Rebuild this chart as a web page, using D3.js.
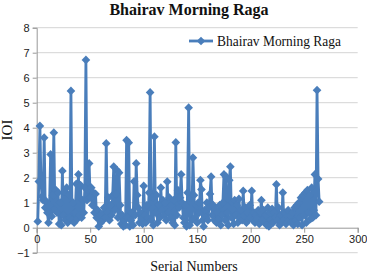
<!DOCTYPE html>
<html lang="en">
  <head>
    <meta charset="utf-8" />
    <title>Bhairav Morning Raga</title>
    <script src="https://d3js.org/d3.v7.min.js"></script>
    <style type="text/css">
      body { margin: 0; background: #fff; }
      .tick text { font-family: "Liberation Sans", sans-serif; font-size: 11px; fill: #222; }
      .serif { font-family: "Liberation Serif", "DejaVu Serif", serif; fill: #111; }
    </style>
  </head>
  <body>
    <script type="text/javascript">
      const w = 367;
      const h = 274;

      // Data (IOI per serial number)
      const seriesName = "Bhairav Morning Raga";
      const ioi = [
        0.25, 1.85, 4.07, 1.8, 1.25, 1.1, 3.6, 0.8, 1.05, 0.6,
        0.2, 0.9, 2.93, 0.45, 1.3, 3.8, 0.7, 1.5, 0.6, 1.4,
        0.15, 1.0, 0.1, 2.27, 0.5, 1.45, 0.3, 1.6, 0.2, 1.3,
        0.4, 5.47, 0.3, 1.0, 0.2, 0.6, 1.75, 0.35, 2.13, 0.5,
        1.7, 0.4, 1.1, 0.6, 1.6, 6.71, 1.1, 1.5, 2.57, 1.2,
        1.6, 0.9, 1.4, 0.6, 1.35, 0.4, 0.7, 0.05, 0.5, 0.2,
        0.55, 0.3, 0.8, 0.4, 3.37, 0.6, 1.2, 0.3, 0.9, 0.5,
        1.3, 2.44, 0.7, 1.35, 2.3, 0.4, 2.2, 0.9, 0.15, 0.5,
        0.05, 0.3, 0.1, 3.5, 0.4, 3.4, 0.05, 0.3, 0.6, 0.1,
        1.85, 0.5, 2.57, 1.3, 0.8, 0.2, 0.6, 0.35, 0.15, 1.67,
        0.5, 0.2, 0.9, 0.4, 1.4, 5.41, 0.3, 1.2, 0.1, 3.64,
        0.6, 1.3, 0.2, 0.9, 0.4, 1.6, 0.7, 1.1, 0.5, 1.0,
        0.3, 1.84, 0.6, 1.2, 0.4, 0.9, 0.2, 1.1, 0.1, 3.41,
        0.5, 1.5, 0.8, 1.2, 2.13, 1.0, 0.4, 0.2, 0.9, 0.05,
        1.4, 4.8, 0.1, 1.2, 0.3, 2.8, 1.3, 0.4, 0.9, 0.2,
        1.0, 0.6, 1.9, 1.53, 0.3, 0.05, 0.7, 0.4, 1.0, 0.3,
        0.8, 1.35, 2.04, 0.5, 0.9, 0.3, 0.75, 0.2, 0.6, 0.35,
        0.9, 0.1, 0.5, 1.0, 2.13, 0.3, 2.04, 0.6, 0.1, 1.9,
        2.44, 0.4, 1.0, 0.15, 1.1, 0.5, 0.9, 0.2, 1.15, 0.4,
        0.7, 0.3, 1.47, 0.5, 0.8, 0.2, 0.6, 0.35, 0.9, 0.4,
        1.47, 0.3, 0.6, 0.2, 0.5, 0.35, 0.7, 0.15, 0.6, 1.1,
        0.3, 0.7, 0.2, 0.5, 0.1, 0.8, 0.05, 0.6, 0.3, 0.75,
        0.2, 0.6, 0.4, 1.73, 0.3, 0.8, 0.1, 0.5, 0.25, 1.4,
        0.3, 0.6, 0.15, 0.45, 0.7, 0.3, 0.5, 0.2, 0.6, 0.1,
        0.8, 0.3, 0.9, 0.15, 1.0, 0.4, 1.2, 0.1, 1.3, 0.5,
        1.4, 0.2, 1.5, 0.6, 1.3, 0.35, 1.6, 0.4, 0.7, 2.13,
        0.5, 5.5, 1.95, 1.04
      ];
      const xTicks = [0, 50, 100, 150, 200, 250, 300];
      const yTicks = [-1, 0, 1, 2, 3, 4, 5, 6, 7, 8];

      const color = "#4a7ebb";

      // Scales
      const x = d3.scaleLinear().domain([0, 300]).range([36.7, 357.7]);
      const y = d3.scaleLinear().domain([-1, 8]).range([252.7, 27.7]);

      const svg = d3.select("body").append("svg").attr("width", w).attr("height", h);

      // Gridlines
      svg.append("g")
        .selectAll("line")
        .data(yTicks.filter(d => d !== 0))
        .enter()
        .append("line")
        .attr("x1", x(0))
        .attr("x2", x(300))
        .attr("y1", d => y(d))
        .attr("y2", d => y(d))
        .attr("stroke", "#d4d4d4")
        .attr("stroke-width", 1);

      // Y axis
      const yAxis = svg.append("g")
        .attr("transform", "translate(" + x(0) + ",0)")
        .call(d3.axisLeft(y).tickValues(yTicks).tickSize(4).tickPadding(3));
      yAxis.select(".domain").attr("stroke", "#999");
      yAxis.selectAll(".tick line").attr("stroke", "#999");

      // X axis at y = 0
      const xAxis = svg.append("g")
        .attr("transform", "translate(0," + y(0) + ")")
        .call(d3.axisBottom(x).tickValues(xTicks).tickSize(5).tickPadding(3));
      xAxis.select(".domain").attr("stroke", "#999");
      xAxis.selectAll(".tick line").attr("stroke", "#999");

      // Line
      const line = d3.line()
        .x((d, i) => x(i + 1))
        .y(d => y(d));

      svg.append("path")
        .datum(ioi)
        .attr("fill", "none")
        .attr("stroke", color)
        .attr("stroke-width", 2.8)
        .attr("stroke-linejoin", "round")
        .attr("d", line);

      // Diamond markers
      const diamond = d3.symbol().type(d3.symbolDiamond2).size(48);
      svg.append("g")
        .selectAll("path")
        .data(ioi)
        .enter()
        .append("path")
        .attr("d", diamond)
        .attr("transform", (d, i) => "translate(" + x(i + 1) + "," + y(d) + ")")
        .attr("fill", color);

      // Title
      svg.append("text")
        .attr("class", "serif")
        .attr("x", 189)
        .attr("y", 15)
        .attr("text-anchor", "middle")
        .attr("font-size", "16px")
        .attr("font-weight", "bold")
        .text(seriesName);

      // Axis titles
      svg.append("text")
        .attr("class", "serif")
        .attr("transform", "translate(12,130) rotate(-90)")
        .attr("text-anchor", "middle")
        .attr("font-size", "15px")
        .text("IOI");

      svg.append("text")
        .attr("class", "serif")
        .attr("x", 194)
        .attr("y", 271)
        .attr("text-anchor", "middle")
        .attr("font-size", "14px")
        .text("Serial Numbers");

      // Legend
      const legend = svg.append("g").attr("transform", "translate(189,41)");
      legend.append("line")
        .attr("x1", 0).attr("x2", 24)
        .attr("stroke", color).attr("stroke-width", 2.8);
      legend.append("path")
        .attr("d", diamond)
        .attr("transform", "translate(12,0)")
        .attr("fill", color);
      legend.append("text")
        .attr("class", "serif")
        .attr("x", 28)
        .attr("y", 5)
        .attr("font-size", "14px")
        .attr("textLength", 124)
        .attr("lengthAdjust", "spacingAndGlyphs")
        .text(seriesName);
    </script>
  </body>
</html>
